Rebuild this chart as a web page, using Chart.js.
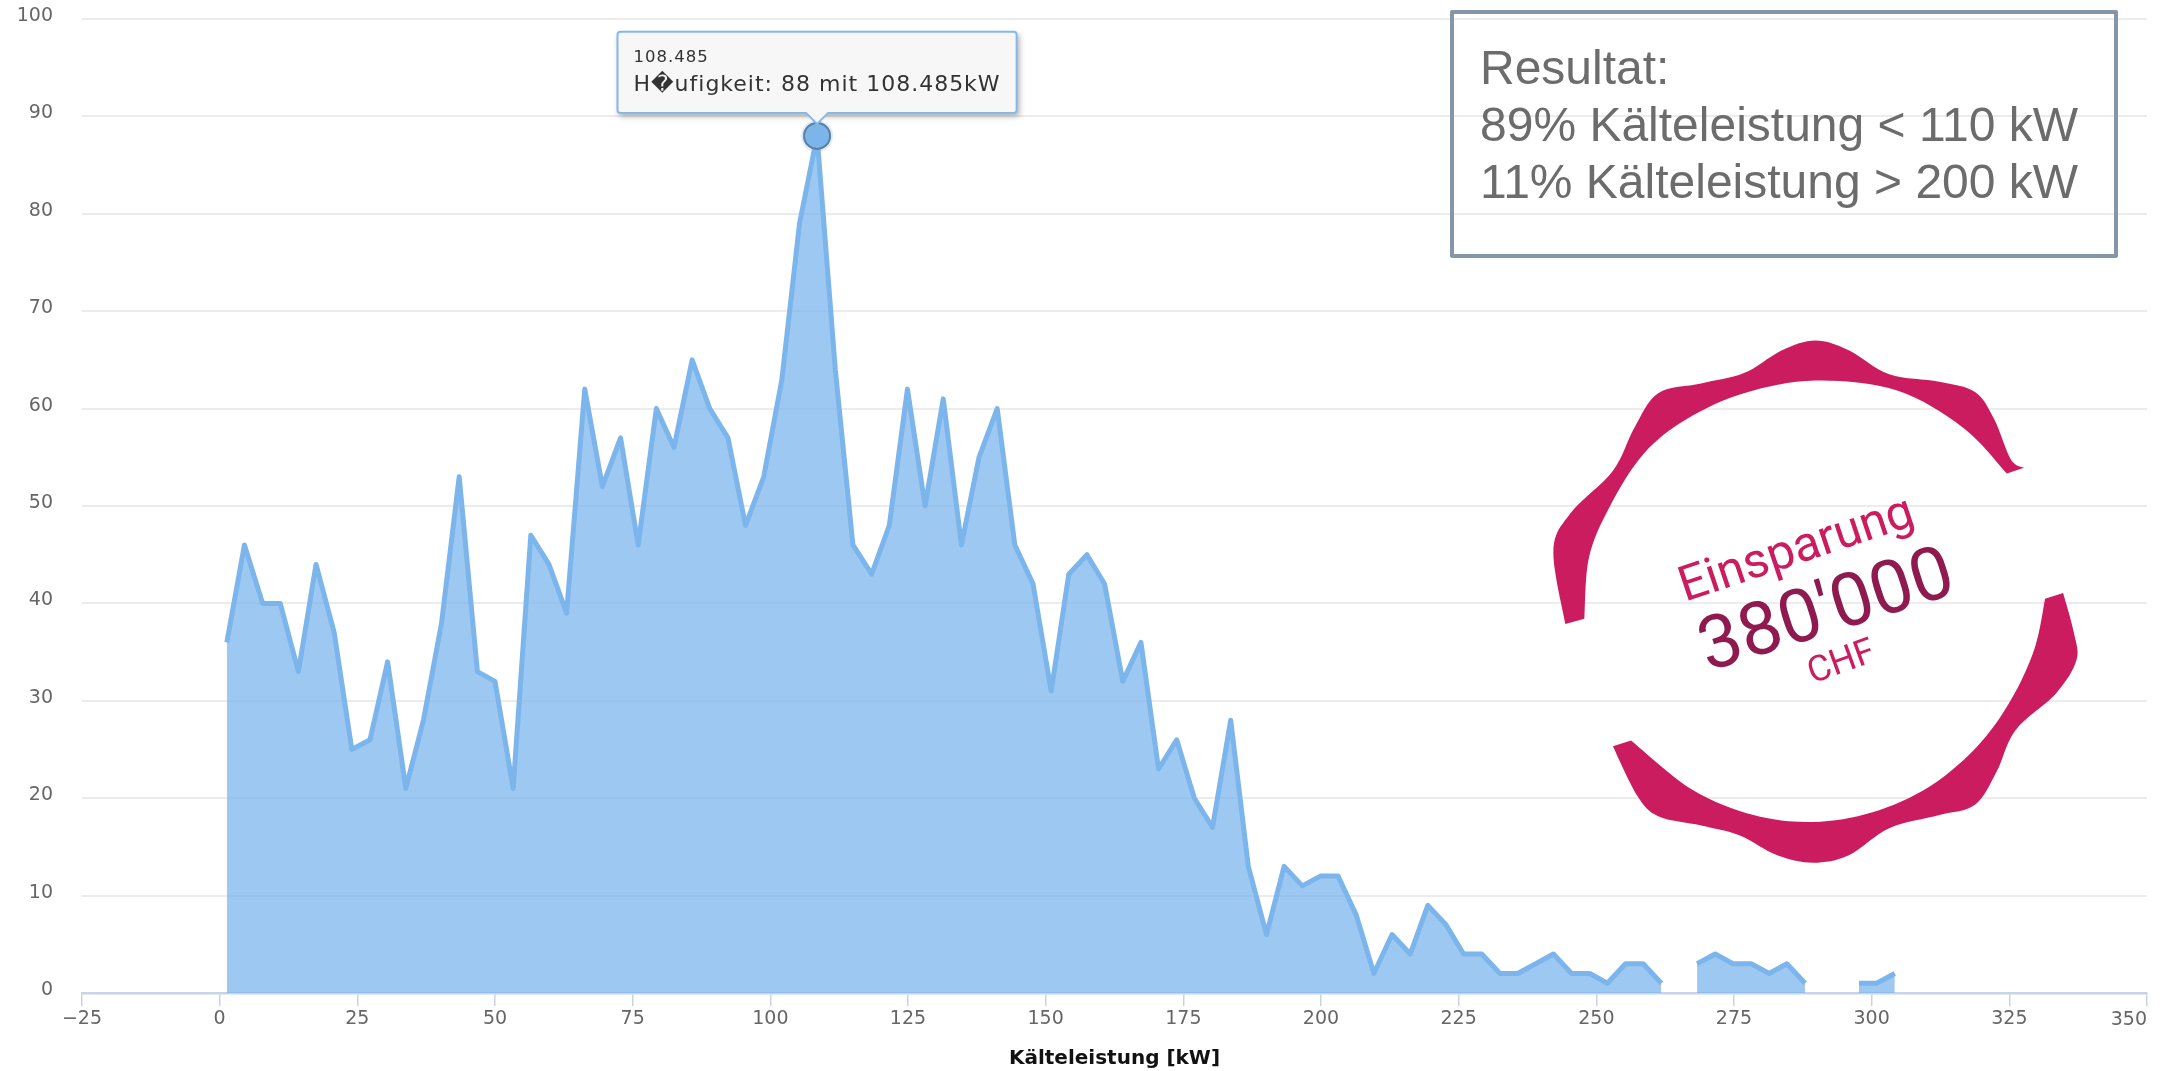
<!DOCTYPE html>
<html lang="de">
<head>
    <meta charset="UTF-8">
    <title>Kälteleistung Häufigkeit</title>
    <script src="https://cdn.jsdelivr.net/npm/chart.js"></script>
    <style>
        html, body { margin: 0; padding: 0; background: #fff; overflow: hidden; }
        #wrap { position: relative; width: 2167px; height: 1071px; }
        #wrap canvas { position: absolute; left: 0; top: 0; }
        #result {
            position: absolute; left: 1450px; top: 10px; width: 660px; height: 240px;
            border: 4px solid #8496a8; border-radius: 2px;
            font: 48px/57px "Liberation Sans", Arial, sans-serif; color: #6c6c6c;
        }
        #result div { position: relative; left: 26px; top: 25px; white-space: nowrap; }
        #stamp { position: absolute; left: 0; top: 0; }
    </style>
</head>
<body>
<div id="wrap">
    <canvas id="chart" width="2167" height="1071"></canvas>
    <div id="result">
        <div>Resultat:</div>
        <div>89% Kälteleistung &lt; 110 kW</div>
        <div>11% Kälteleistung &gt; 200 kW</div>
    </div>
    <svg id="stamp" width="2167" height="1071">
        <g transform="translate(1420,0) scale(0.4764,0.574)">
            <path id="arcTop" fill="#cc1c60"></path>
            <path id="arcBottom" fill="#cc1c60"></path>
        </g>
        <g font-family="Roboto, sans-serif" text-anchor="middle">
            <text transform="translate(1801,563) rotate(-18.5)" font-size="49" fill="#cc1c60">Einsparung</text>
            <text transform="translate(1833,632) rotate(-17.5)" font-size="74" fill="#8f1a4f">380'000</text>
            <text transform="translate(1845,672) rotate(-20)" font-size="36" fill="#cc1c60">CHF</text>
        </g>
    </svg>
</div>
<script>
    // Values
    const power = [
        1.3, 4.5, 7.8, 11.0, 14.3, 17.5, 20.8, 24.0, 27.3, 30.5,
        33.8, 37.0, 40.3, 43.5, 46.8, 50.0, 53.3, 56.5, 59.8, 63.0,
        66.3, 69.5, 72.8, 76.0, 79.3, 82.5, 85.8, 89.0, 92.3, 95.5,
        98.8, 102.1, 105.3, 108.485, 111.8, 115.0, 118.4, 121.6, 124.9, 128.1,
        131.4, 134.7, 137.9, 141.2, 144.4, 147.7, 151.0, 154.2, 157.5, 160.7,
        164.0, 167.3, 170.5, 173.8, 177.0, 180.3, 183.6, 186.8, 190.1, 193.3,
        196.6, 199.9, 203.1, 206.4, 209.6, 212.9, 216.2, 219.4, 222.7, 225.9,
        229.2, 232.5, 235.7, 239.0, 242.2, 245.5, 248.8, 252.0, 255.3, 258.5,
        261.8, 265.1, 268.3, 271.6, 274.8, 278.1, 281.4, 284.6, 287.9, 291.1,
        294.4, 297.7, 300.9, 304.2
    ];
    const frequency = [
        36, 46, 40, 40, 33, 44, 37, 25, 26, 34,
        21, 28, 38, 53, 33, 32, 21, 47, 44, 39,
        62, 52, 57, 46, 60, 56, 65, 60, 57, 48,
        53, 63, 79, 88, 64, 46, 43, 48, 62, 50,
        61, 46, 55, 60, 46, 42, 31, 43, 45, 42,
        32, 36, 23, 26, 20, 17, 28, 13, 6, 13,
        11, 12, 12, 8, 2, 6, 4, 9, 7, 4,
        4, 2, 2, 3, 4, 2, 2, 1, 3, 3,
        1, null, 3, 4, 3, 3, 2, 3, 1, null,
        null, 1, 1, 2
    ];
    const xTicks = [-25, 0, 25, 50, 75, 100, 125, 150, 175, 200, 225, 250, 275, 300, 325, 350];
    const yTicks = [0, 10, 20, 30, 40, 50, 60, 70, 80, 90, 100];
    const peakIndex = 33;

    // Stamp outline
    const topOuter = [[305,1087],[280,960],[315,895],[405,820],[450,745],[500,685],[590,668],[680,650],[760,610],[830,593],[900,610],[985,652],[1090,665],[1165,683],[1205,730],[1240,800],[1268,815]];
    const topInner = [[1232,825],[1140,745],[1000,680],[830,663],[680,685],[560,730],[470,790],[400,880],[355,970],[345,1078]];
    const bottomOuter = [[405,1300],[455,1385],[500,1422],[590,1438],[670,1455],[750,1490],[825,1503],[900,1490],[985,1443],[1090,1420],[1165,1402],[1210,1345],[1250,1272],[1335,1208],[1378,1150],[1372,1100],[1350,1033]];
    const bottomInner = [[1312,1043],[1290,1130],[1240,1220],[1170,1300],[1070,1370],[950,1415],[825,1432],[700,1420],[570,1375],[443,1290]];

    function smooth(pts) {
        let d = 'L' + pts[0].join(' ');
        for (let i = 0; i < pts.length - 1; i++) {
            const p0 = pts[Math.max(i - 1, 0)], p1 = pts[i], p2 = pts[i + 1], p3 = pts[Math.min(i + 2, pts.length - 1)];
            const c1 = [p1[0] + (p2[0] - p0[0]) / 6, p1[1] + (p2[1] - p0[1]) / 6];
            const c2 = [p2[0] - (p3[0] - p1[0]) / 6, p2[1] - (p3[1] - p1[1]) / 6];
            d += 'C' + c1.join(' ') + ' ' + c2.join(' ') + ' ' + p2.join(' ');
        }
        return d;
    }
    function blob(outer, inner) {
        return 'M' + smooth(outer).slice(1) + smooth(inner) + 'Z';
    }
    document.getElementById('arcTop').setAttribute('d', blob(topOuter, topInner));
    document.getElementById('arcBottom').setAttribute('d', blob(bottomOuter, bottomInner));

    const tickFont = { family: '"DejaVu Sans", sans-serif', size: 19 };

    const tooltipLook = {
        id: 'tooltipLook',
        // soft shadow under the box only, text stays clean
        beforeTooltipDraw(chart, args) {
            const t = args.tooltip, ctx = chart.ctx;
            ctx.save();
            ctx.shadowColor = 'rgba(0,0,0,0.35)';
            ctx.shadowBlur = 6;
            ctx.shadowOffsetX = 2;
            ctx.shadowOffsetY = 3;
            ctx.fillStyle = '#f7f7f7';
            ctx.fillRect(t.x, t.y, t.width, t.height);
            ctx.restore();
            ctx.letterSpacing = '1px';
        },
        afterTooltipDraw(chart) {
            chart.ctx.letterSpacing = '0px';
        },
        // Last tick label sits left of its tick in the original
        afterDraw(chart) {
            const ctx = chart.ctx, s = chart.scales.x;
            ctx.save();
            ctx.font = '19px "DejaVu Sans", sans-serif';
            ctx.fillStyle = '#666';
            ctx.textAlign = 'right';
            ctx.textBaseline = 'middle';
            ctx.fillText(String(xTicks[xTicks.length - 1]), s.getPixelForValue(xTicks[xTicks.length - 1]), s.top + 27);
            ctx.restore();
        }
    };

    const chart = new Chart(document.getElementById('chart'), {
        type: 'line',
        plugins: [tooltipLook],
        data: {
            datasets: [{
                label: 'Häufigkeit',
                data: power.map((p, i) => ({ x: p, y: frequency[i] })),
                borderColor: '#7cb5ec',
                backgroundColor: 'rgba(124,181,236,0.75)',
                borderWidth: 5,
                borderJoinStyle: 'round',
                fill: 'origin',
                tension: 0,
                spanGaps: false,
                pointRadius: ctx => ctx.dataIndex === peakIndex ? 13 : 0,
                pointBackgroundColor: '#7cb5ec',
                pointBorderColor: '#5d7f9f',
                pointBorderWidth: 2
            }, {
                // halo round the active point
                label: 'halo',
                data: [{ x: power[peakIndex], y: frequency[peakIndex] }],
                showLine: false,
                pointRadius: 16,
                pointBackgroundColor: 'rgba(124,181,236,0.25)',
                pointBorderWidth: 0
            }]
        },
        options: {
            responsive: false,
            animation: false,
            events: [],
            layout: { padding: { top: 19, right: 20, left: 0, bottom: 0 } },
            plugins: {
                legend: { display: false },
                tooltip: {
                    enabled: true,
                    filter: item => item.datasetIndex === 0,
                    yAlign: 'bottom',
                    xAlign: 'center',
                    caretSize: 11,
                    caretPadding: 12,
                    cornerRadius: 3,
                    padding: { left: 16, right: 44, top: 16, bottom: 14 },
                    displayColors: false,
                    backgroundColor: '#f7f7f7',
                    borderColor: '#85b8ea',
                    borderWidth: 2,
                    titleColor: '#333',
                    bodyColor: '#333',
                    titleFont: { family: '"DejaVu Sans", sans-serif', size: 16.5, weight: 'normal' },
                    bodyFont: { family: '"DejaVu Sans", sans-serif', size: 22 },
                    titleMarginBottom: 5,
                    callbacks: {
                        title: items => String(items[0].parsed.x),
                        label: item => 'H\uFFFDufigkeit: ' + item.parsed.y + ' mit ' + item.parsed.x + 'kW'
                    }
                }
            },
            scales: {
                x: {
                    type: 'linear',
                    min: -25,
                    max: 350,
                    afterBuildTicks: s => { s.ticks = xTicks.map(v => ({ value: v })); },
                    afterFit: s => { s.height = 78; },
                    border: { color: '#c8d4e6', width: 2.5 },
                    grid: { drawOnChartArea: false, drawTicks: true, tickLength: 13, color: '#c8d4e6', lineWidth: 1.5 },
                    ticks: {
                        color: '#666',
                        font: tickFont,
                        maxRotation: 0,
                        autoSkip: false,
                        padding: 2,
                        callback: v => v === xTicks[xTicks.length - 1] ? '' : String(v).replace('-', '\u2212')
                    },
                    title: {
                        display: true,
                        text: 'Kälteleistung [kW]',
                        color: '#111',
                        font: { family: '"DejaVu Sans", sans-serif', size: 20, weight: 'bold' },
                        padding: { top: 9, bottom: 0 }
                    }
                },
                y: {
                    min: 0,
                    max: 100,
                    afterBuildTicks: s => { s.ticks = yTicks.map(v => ({ value: v })); },
                    afterFit: s => { s.width = 82; },
                    border: { display: false },
                    // invisible tick marks keep the labels away from the plot
                    grid: { drawTicks: true, tickLength: 29, tickColor: 'transparent', color: '#ececec', lineWidth: 2 },
                    ticks: {
                        color: '#666',
                        font: tickFont,
                        padding: 0,
                        labelOffset: -3
                    }
                }
            }
        }
    });

    // Tooltip stays open on the peak, like in the screenshot
    chart.tooltip.setActiveElements([{ datasetIndex: 0, index: peakIndex }], { x: 0, y: 0 });
    chart.render();
</script>
</body>
</html>
